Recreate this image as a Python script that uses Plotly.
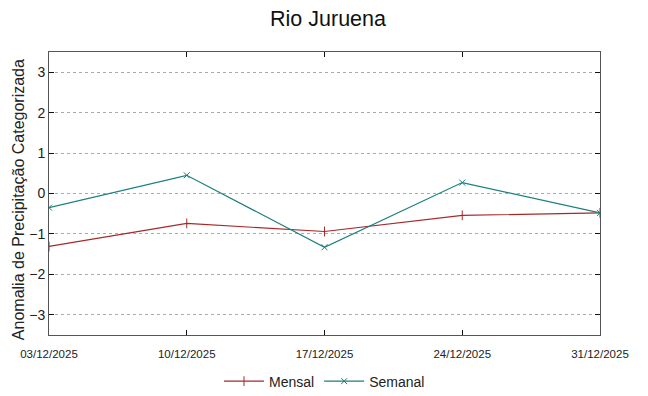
import plotly.graph_objects as go

dates = ["2025-12-03", "2025-12-10", "2025-12-17", "2025-12-24", "2025-12-31"]
tick_labels = ["03/12/2025", "10/12/2025", "17/12/2025", "24/12/2025", "31/12/2025"]
mensal = [-1.31, -0.74, -0.94, -0.54, -0.48]
semanal = [-0.35, 0.45, -1.33, 0.27, -0.48]
y_title = "Anomalia de Precipitação Categorizada"

fig = go.Figure()
fig.add_trace(go.Scatter(x=dates, y=mensal, name="Mensal", mode="lines+markers",
                         line=dict(color="#a82828", width=1.2),
                         marker=dict(symbol="line-ns", size=7, line=dict(color="#a82828", width=1))))
fig.add_trace(go.Scatter(x=dates, y=semanal, name="Semanal", mode="lines+markers",
                         line=dict(color="#1a7f7f", width=1.2),
                         marker=dict(symbol="x-thin", size=6, line=dict(color="#1a7f7f", width=1))))

# page body has an 8px margin, so the figure is sized/offset accordingly
fig.update_layout(
    width=640, height=388,
    margin=dict(l=41, r=48, t=44, b=61, autoexpand=False),
    paper_bgcolor="white", plot_bgcolor="white",
    font=dict(family="Liberation Sans, Arial, sans-serif", color="#222"),
    title=dict(text="Rio Juruena", x=0.5, xanchor="center", y=0.972, yanchor="middle",
               font=dict(size=21.5, color="#111")),
    showlegend=True,
    legend=dict(orientation="h", x=0.5, xanchor="center", y=-0.108, yanchor="top",
                font=dict(size=14), itemwidth=40),
    annotations=[dict(text=y_title, xref="paper", yref="paper", x=-0.0563, y=0.48,
                      xanchor="center", yanchor="middle", textangle=-90, showarrow=False,
                      font=dict(size=16, color="#222"))],
)
fig.update_xaxes(
    type="date", range=["2025-12-03", "2025-12-31"], automargin=False,
    tickvals=dates, ticktext=tick_labels, tickfont=dict(size=11.5),
    ticklabelstandoff=8,
    showgrid=False, showline=True, linecolor="#555", linewidth=1, mirror="ticks",
    ticks="inside", ticklen=5, tickcolor="#111", zeroline=False,
)
fig.update_yaxes(
    range=[-3.5, 3.5], tickvals=[-3, -2, -1, 0, 1, 2, 3], tickfont=dict(size=14),
    automargin=False,
    showgrid=True, gridcolor="#aaaaaa", griddash="dot", gridwidth=1,
    showline=True, linecolor="#555", linewidth=1, mirror="ticks",
    ticks="inside", ticklen=5, tickcolor="#111", zeroline=False,
)

fig.write_html("out.html")
